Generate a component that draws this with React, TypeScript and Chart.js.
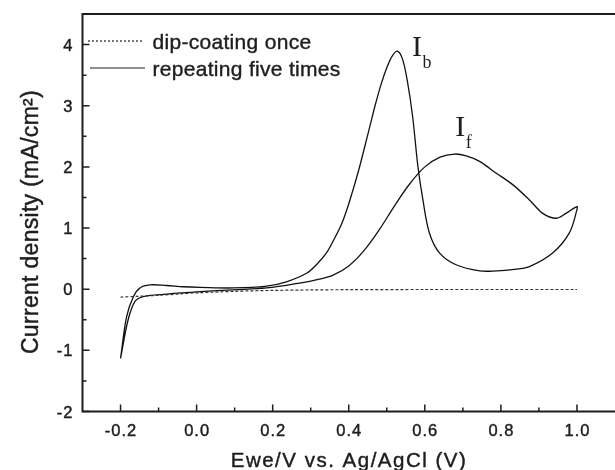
import React, { useEffect, useRef } from "react";
import { Chart, registerables } from "chart.js";

Chart.register(...registerables);

// dip-coating once (dotted)
const onceV = [-0.2, -0.15, -0.1, -0.05, 0.0, 0.1, 0.2, 0.3, 0.4, 0.6, 0.8, 1.0];
const onceJ = [-0.13, -0.115, -0.1, -0.08, -0.06, -0.035, -0.02, -0.012, -0.008, -0.005, -0.005, -0.005];

// repeating five times (solid): forward scan then backward scan
const fiveV = [
  -0.2, -0.18, -0.162, -0.14, -0.079, 0.009, 0.096, 0.184, 0.271, 0.32, 0.359, 0.4, 0.44, 0.48, 0.52, 0.56, 0.6,
  0.64, 0.678, 0.709, 0.744, 0.787, 0.831, 0.875, 0.91, 0.945, 0.971, 1.0,
  1.0, 0.98, 0.936, 0.875, 0.83, 0.79, 0.744, 0.682, 0.639, 0.612, 0.595, 0.582, 0.568, 0.555, 0.542, 0.529, 0.515,
  0.5, 0.485, 0.47, 0.455, 0.44, 0.425, 0.41, 0.395, 0.38, 0.36, 0.34, 0.315, 0.289, 0.236, 0.184, 0.096, 0.009,
  -0.035, -0.079, -0.123, -0.149, -0.166, -0.184, -0.2,
];
const fiveJ = [
  -1.13, -0.5, -0.2, -0.12, -0.08, -0.04, -0.01, 0.02, 0.1, 0.16, 0.23, 0.38, 0.63, 0.97, 1.36, 1.72, 2.0,
  2.16, 2.21, 2.18, 2.09, 1.9, 1.71, 1.46, 1.24, 1.16, 1.24, 1.35,
  1.3, 0.92, 0.59, 0.37, 0.32, 0.3, 0.3, 0.4, 0.59, 0.92, 1.46, 2.0, 2.82, 3.37, 3.75, 3.89, 3.82,
  3.62, 3.35, 3.02, 2.65, 2.28, 1.92, 1.6, 1.3, 1.05, 0.8, 0.58, 0.4, 0.26, 0.12, 0.05, 0.02, 0.03,
  0.04, 0.06, 0.07, 0.02, -0.12, -0.45, -1.13,
];

const seriesNames = ["dip-coating once", "repeating five times"];

const xTickValues = [-0.2, 0.0, 0.2, 0.4, 0.6, 0.8, 1.0];
const xTickLabels = ["-0.2", "0.0", "0.2", "0.4", "0.6", "0.8", "1.0"];
const xMinorTicks = [-0.1, 0.1, 0.3, 0.5, 0.7, 0.9];
const yTickValues = [-2, -1, 0, 1, 2, 3, 4];
const yTickLabels = ["-2", "-1", "0", "1", "2", "3", "4"];
const yMinorTicks = [-1.5, -0.5, 0.5, 1.5, 2.5, 3.5];

const xTitle = "Ewe/V vs. Ag/AgCl (V)";
const yTitle = "Current density (mA/cm\u00B2)";

const peakMain = ["I", "I"];
const peakSub = ["b", "f"];
const peakV = [0.566, 0.68];
const peakJ = [3.82, 2.5];

const INK = "#1e1e1e";

function boldText(ctx: CanvasRenderingContext2D, t: string, x: number, y: number) {
  ctx.fillText(t, x, y);
  ctx.strokeText(t, x, y);
}

const decorPlugin = {
  id: "decor",
  afterDraw(chart: any) {
    const ctx = chart.ctx as CanvasRenderingContext2D;
    const xs = chart.scales.x;
    const ys = chart.scales.y;
    const a = chart.chartArea;
    ctx.save();
    // frame
    ctx.strokeStyle = INK;
    ctx.lineWidth = 2;
    ctx.lineJoin = "miter";
    ctx.beginPath();
    ctx.moveTo(a.right + 2, a.top);
    ctx.lineTo(a.left, a.top);
    ctx.lineTo(a.left, a.bottom);
    ctx.lineTo(a.right + 2, a.bottom);
    ctx.stroke();

    // ticks (inward)
    ctx.lineWidth = 1.5;
    ctx.beginPath();
    for (const v of xTickValues) {
      const p = xs.getPixelForValue(v);
      ctx.moveTo(p, a.bottom);
      ctx.lineTo(p, a.bottom - 7);
    }
    for (const v of xMinorTicks) {
      const p = xs.getPixelForValue(v);
      ctx.moveTo(p, a.bottom);
      ctx.lineTo(p, a.bottom - 4);
    }
    for (const v of yTickValues) {
      const p = ys.getPixelForValue(v);
      ctx.moveTo(a.left, p);
      ctx.lineTo(a.left + 7, p);
    }
    for (const v of yMinorTicks) {
      const p = ys.getPixelForValue(v);
      ctx.moveTo(a.left, p);
      ctx.lineTo(a.left + 4, p);
    }
    ctx.stroke();

    // text weight helper stroke
    ctx.lineWidth = 0.45;
    ctx.lineJoin = "round";

    // tick labels
    ctx.fillStyle = INK;
    ctx.font = "16.5px 'Liberation Sans', Arial, sans-serif";
    (ctx as any).letterSpacing = "1px";
    ctx.textBaseline = "alphabetic";
    ctx.textAlign = "center";
    xTickValues.forEach((v, i) => {
      boldText(ctx, xTickLabels[i], xs.getPixelForValue(v) + 0.5, a.bottom + 24.5);
    });
    ctx.textAlign = "right";
    yTickValues.forEach((v, i) => {
      boldText(ctx, yTickLabels[i], a.left - 9, ys.getPixelForValue(v) + 6);
    });

    // x title
    ctx.font = "20.5px 'Liberation Sans', Arial, sans-serif";
    (ctx as any).letterSpacing = "1.5px";
    ctx.textAlign = "center";
    boldText(ctx, xTitle, 349, 467);

    // y title
    ctx.save();
    (ctx as any).letterSpacing = "0.3px";
    ctx.font = "23px 'Liberation Sans', Arial, sans-serif";
    ctx.translate(37.5, 222);
    ctx.rotate(-Math.PI / 2);
    ctx.textAlign = "center";
    boldText(ctx, yTitle, 0, 0);
    ctx.restore();

    // legend
    (ctx as any).letterSpacing = "0.3px";
    ctx.font = "21px 'Liberation Sans', Arial, sans-serif";
    ctx.textAlign = "left";
    ctx.lineWidth = 1.2;
    ctx.strokeStyle = INK;
    ctx.setLineDash([2, 2]);
    ctx.beginPath();
    ctx.moveTo(88, 41);
    ctx.lineTo(144, 41);
    ctx.stroke();
    ctx.setLineDash([]);
    ctx.beginPath();
    ctx.moveTo(90, 68);
    ctx.lineTo(145, 68);
    ctx.stroke();
    ctx.lineWidth = 0.4;
    boldText(ctx, seriesNames[0], 152.5, 48.5);
    boldText(ctx, seriesNames[1], 152.5, 75.5);

    // peak labels
    (ctx as any).letterSpacing = "0px";
    peakMain.forEach((m, i) => {
      const px = xs.getPixelForValue(peakV[i]);
      const py = ys.getPixelForValue(peakJ[i]);
      ctx.font = "30px 'Liberation Serif', 'Times New Roman', serif";
      ctx.fillText(m, px, py);
      const w = ctx.measureText(m).width;
      ctx.font = "18px 'Liberation Serif', 'Times New Roman', serif";
      ctx.fillText(peakSub[i], px + w + 0.5, py + 12);
    });
    ctx.restore();
  },
};

export default function App() {
  const ref = useRef<HTMLCanvasElement | null>(null);
  useEffect(() => {
    document.body.style.margin = "0";
    const canvas = ref.current;
    if (!canvas) return;
    const onceData = onceV.map((v, i) => ({ x: v, y: onceJ[i] }));
    const fiveData = fiveV.map((v, i) => ({ x: v, y: fiveJ[i] }));
    const chart = new Chart(canvas, {
      type: "line",
      data: {
        datasets: [
          {
            label: seriesNames[0],
            data: onceData,
            borderColor: "#333",
            borderWidth: 1.2,
            borderDash: [3, 2],
            pointRadius: 0,
            tension: 0.3,
            fill: false,
          },
          {
            label: seriesNames[1],
            data: fiveData,
            borderColor: "#111",
            borderWidth: 1.3,
            pointRadius: 0,
            tension: 0.35,
            fill: false,
          },
        ],
      },
      options: {
        animation: false,
        responsive: true,
        maintainAspectRatio: false,
        layout: { padding: { top: 14, right: 0, left: 0, bottom: 0 } },
        plugins: { legend: { display: false }, tooltip: { enabled: false }, title: { display: false } },
        scales: {
          x: {
            type: "linear",
            min: -0.3,
            max: 1.1,
            grid: { display: false, drawTicks: false },
            border: { display: false },
            ticks: { display: false },
            afterFit: (s: any) => {
              s.height = 58.5;
            },
          },
          y: {
            type: "linear",
            min: -2,
            max: 4.5,
            grid: { display: false, drawTicks: false },
            border: { display: false },
            ticks: { display: false },
            afterFit: (s: any) => {
              s.width = 82.5;
            },
          },
        },
      },
      plugins: [decorPlugin],
    });
    return () => chart.destroy();
  }, []);
  return (
    <div style={{ position: "relative", width: 615, height: 470, background: "#fff" }}>
      <canvas ref={ref} />
    </div>
  );
}
